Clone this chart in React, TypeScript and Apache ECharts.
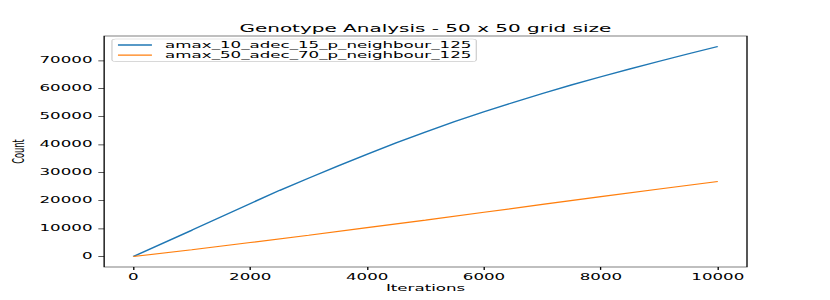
import React, { useEffect, useRef } from "react";
import * as echarts from "echarts";

const titleText = "Genotype Analysis - 50 x 50 grid size";
const xName = "Iterations";
const yName = "Count";
const seriesNames = ["amax_10_adec_15_p_neighbour_125", "amax_50_adec_70_p_neighbour_125"];

const blueIter = [0, 1000, 2000, 2500, 3000, 3500, 4000, 4500, 5000, 5500, 6000, 6500, 7000, 7500, 8000, 8500, 9000, 9500, 10000];
const blueCount = [0, 9400, 18900, 23600, 28000, 32300, 36500, 40600, 44500, 48200, 51700, 55000, 58200, 61300, 64200, 67000, 69700, 72400, 75000];

const orangeIter = [0, 1000, 2000, 3000, 4000, 5000, 6000, 7000, 8000, 9000, 10000];
const orangeCount = [0, 2400, 5000, 7600, 10300, 13000, 15800, 18600, 21400, 24100, 26800];

const xTicks = [0, 2000, 4000, 6000, 8000, 10000];
const yTicks = [0, 10000, 20000, 30000, 40000, 50000, 60000, 70000];

const colors = ["#1f77b4", "#ff7f0e"];

// original figure proportions, stretched to 830x300
const SX = 1.2;
const SY = 0.6;
const W = 830 / SX;
const H = 300 / SY;
const FONT = "DejaVu Sans";
const FS = 13.9;

export default function App() {
  const ref = useRef<HTMLDivElement>(null);
  useEffect(() => {
    if (!ref.current) return;
    const chart = echarts.init(ref.current, undefined, { renderer: "svg", width: W, height: H });
    const left = 0.125 * W;
    const right = 0.1 * W;
    const top = 0.12 * H;
    const bottom = 0.11 * H;
    const axesCenter = left + (W - left - right) / 2;
    const plain = (v: number) => String(v);
    chart.setOption({
      animation: false,
      textStyle: { fontFamily: FONT },
      grid: {
        left,
        right,
        top,
        bottom,
        show: true,
        borderColor: "#000",
        borderWidth: 1.1,
        backgroundColor: "transparent",
      },
      graphic: [
        {
          type: "text",
          x: axesCenter,
          y: top - 8.3 + 3.9,
          style: {
            text: titleText,
            fontSize: 16.67,
            fontFamily: FONT,
            fill: "#000",
            align: "center",
            verticalAlign: "bottom",
          },
        },
      ],
      legend: {
        orient: "vertical",
        left: 93.3,
        top: 65,
        icon: "rect",
        itemWidth: 28.3,
        itemHeight: 2.1,
        itemGap: 2.7,
        padding: [3, 4, 4, 5],
        borderColor: "#cccccc",
        borderWidth: 1,
        borderRadius: 3,
        backgroundColor: "rgba(255,255,255,0.8)",
        textStyle: { fontSize: FS, color: "#000", lineHeight: 14, fontFamily: FONT, padding: [0, 0, 0, 6] },
        data: seriesNames,
      },
      xAxis: {
        type: "value",
        min: -500,
        max: 10500,
        axisLine: { show: false, onZero: false },
        splitLine: { show: false },
        axisTick: { show: true, length: 4.86, lineStyle: { color: "#000", width: 1.1 }, customValues: xTicks },
        axisLabel: { customValues: xTicks, formatter: plain, margin: 9.7, fontSize: FS, color: "#000", fontFamily: FONT },
        name: xName,
        nameLocation: "middle",
        nameGap: 24,
        nameTextStyle: { fontSize: FS, color: "#000", fontFamily: FONT },
      },
      yAxis: {
        type: "value",
        min: -3750,
        max: 78750,
        axisLine: { show: false, onZero: false },
        splitLine: { show: false },
        axisTick: { show: true, length: 4.86, lineStyle: { color: "#000", width: 1.1 }, customValues: yTicks },
        axisLabel: { customValues: yTicks, formatter: plain, margin: 9.7, fontSize: FS, color: "#000", fontFamily: FONT },
        name: yName,
        nameLocation: "middle",
        nameRotate: 90,
        nameGap: 58,
        nameTextStyle: { fontSize: FS, color: "#000", fontFamily: FONT },
      },
      series: [
        {
          name: seriesNames[0],
          type: "line",
          symbol: "none",
          color: colors[0],
          lineStyle: { width: 2, color: colors[0] },
          data: blueIter.map((x, i) => [x, blueCount[i]]),
        },
        {
          name: seriesNames[1],
          type: "line",
          symbol: "none",
          color: colors[1],
          lineStyle: { width: 2, color: colors[1] },
          data: orangeIter.map((x, i) => [x, orangeCount[i]]),
        },
      ],
    });
    return () => chart.dispose();
  }, []);
  return (
    <div style={{ position: "absolute", left: 0, top: 0, width: 830, height: 300, overflow: "hidden", background: "#fff" }}>
      <div
        ref={ref}
        style={{ width: W, height: H, transform: `scale(${SX}, ${SY})`, transformOrigin: "0 0" }}
      />
    </div>
  );
}
